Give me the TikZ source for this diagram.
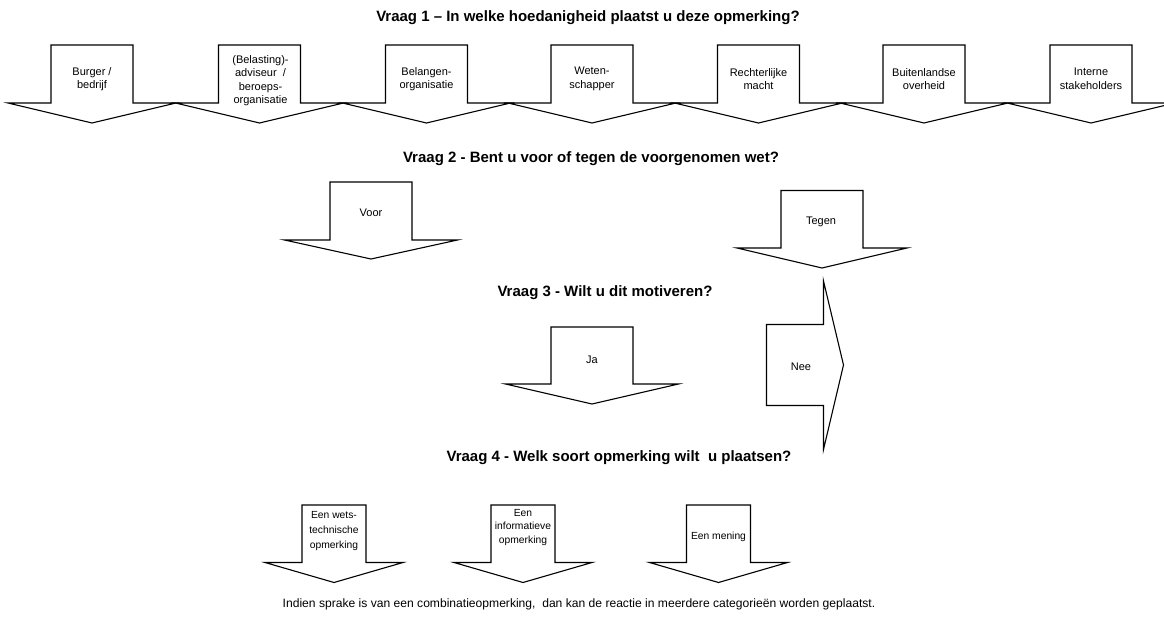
\documentclass[tikz,border=0pt]{standalone}
\usepackage{fontspec}
\setmainfont{Liberation Sans}
\begin{document}
\begin{tikzpicture}[x=1pt,y=-1pt,
  arrowshape/.style={draw=black,fill=white,line width=1.1pt,line join=miter},
  lbl/.style={align=center,font=\fontsize{11}{13.5}\selectfont,inner sep=0pt},
  smlbl/.style={align=center,font=\fontsize{10.3}{13.5}\selectfont,inner sep=0pt},
  qtitle/.style={anchor=base,font=\fontsize{15}{18}\selectfont\bfseries,inner sep=0pt},
  foot/.style={anchor=base,font=\fontsize{12.1}{14}\selectfont,inner sep=0pt}]
\useasboundingbox (0,0) rectangle (1164,620);
\clip (0,0) rectangle (1164,620);
% name, cx, top, shoulder, tip, shaft half, head half
\newcommand\dnarrow[7]{%
  \draw[arrowshape] (#2-#6,#3) -- (#2+#6,#3) -- (#2+#6,#4) -- (#2+#7,#4)
    -- (#2,#5) coordinate (#1) -- (#2-#7,#4) -- (#2-#6,#4) -- cycle;}
% Question 1
\node[qtitle] (q1) at (588,22) {Vraag 1 – In welke hoedanigheid plaatst u deze opmerking?};
\dnarrow{a1}{92}{45}{103}{123}{41}{84}
\dnarrow{a2}{259.5}{45}{103}{123}{41}{84}
\dnarrow{a3}{426.5}{45}{103}{123}{41}{84}
\dnarrow{a4}{592}{45}{103}{123}{41}{84}
\dnarrow{a5}{758.5}{45}{103}{123}{41}{84}
\dnarrow{a6}{924}{45}{103}{123}{41}{84}
\dnarrow{a7}{1091}{45}{103}{123}{41}{84}
\node[lbl] (l1) at (92,79) {Burger /\\bedrijf};
\node[lbl] (l2) at (260.5,80.5) {(Belasting)-\\adviseur~ /\\beroeps-\\organisatie};
\node[lbl] (l3) at (426.5,79) {Belangen-\\organisatie};
\node[lbl] (l4) at (592,79) {Weten-\\schapper};
\node[lbl] (l5) at (758.5,79) {Rechterlijke\\macht};
\node[lbl] (l6) at (924,79) {Buitenlandse\\overheid};
\node[lbl] (l7) at (1091,79) {Interne\\stakeholders};
% Question 2
\node[qtitle] (q2) at (591,162.5) {Vraag 2 - Bent u voor of tegen de voorgenomen wet?};
\dnarrow{voorA}{371}{182}{240}{259}{41}{86.5}
\dnarrow{tegenA}{822}{190.5}{248}{268}{41}{85}
\node[lbl] (voor) at (371,212.5) {Voor};
\node[lbl] (tegen) at (821,221.5) {Tegen};
% Question 3
\node[qtitle] (q3) at (605,297) {Vraag 3 - Wilt u dit motiveren?};
\dnarrow{jaA}{592}{327}{384}{404}{41}{86.5}
\node[lbl] (ja) at (592,360) {Ja};
\draw[arrowshape] (766.5,324.5) -- (823.5,324.5) -- (823.5,281)
  -- (843.5,365) coordinate (neeTip) -- (823.5,449.5) -- (823.5,405.5) -- (766.5,405.5) -- cycle;
\node[lbl] (nee) at (801,366.5) {Nee};
% Question 4
\node[qtitle] (q4) at (619,461.5) {Vraag 4 - Welk soort opmerking wilt ~u plaatsen?};
\dnarrow{b1}{334}{505}{562.5}{582.5}{32}{69}
\dnarrow{b2}{523}{505}{562.5}{582.5}{32}{69}
\dnarrow{b3}{718.5}{505}{562.5}{582.5}{32}{69}
\node[smlbl,font=\fontsize{10.3}{15}\selectfont] (w) at (334,531) {Een wets-\\technische\\opmerking};
\node[smlbl] (inf) at (523,527.5) {Een\\informatieve\\opmerking};
\node[smlbl] (men) at (718.5,537) {Een mening};
% Footer
\node[foot] (ft) at (579,607) {Indien sprake is van een combinatieopmerking,~ dan kan de reactie in meerdere categorieën worden geplaatst.};
\end{tikzpicture}
\end{document}
